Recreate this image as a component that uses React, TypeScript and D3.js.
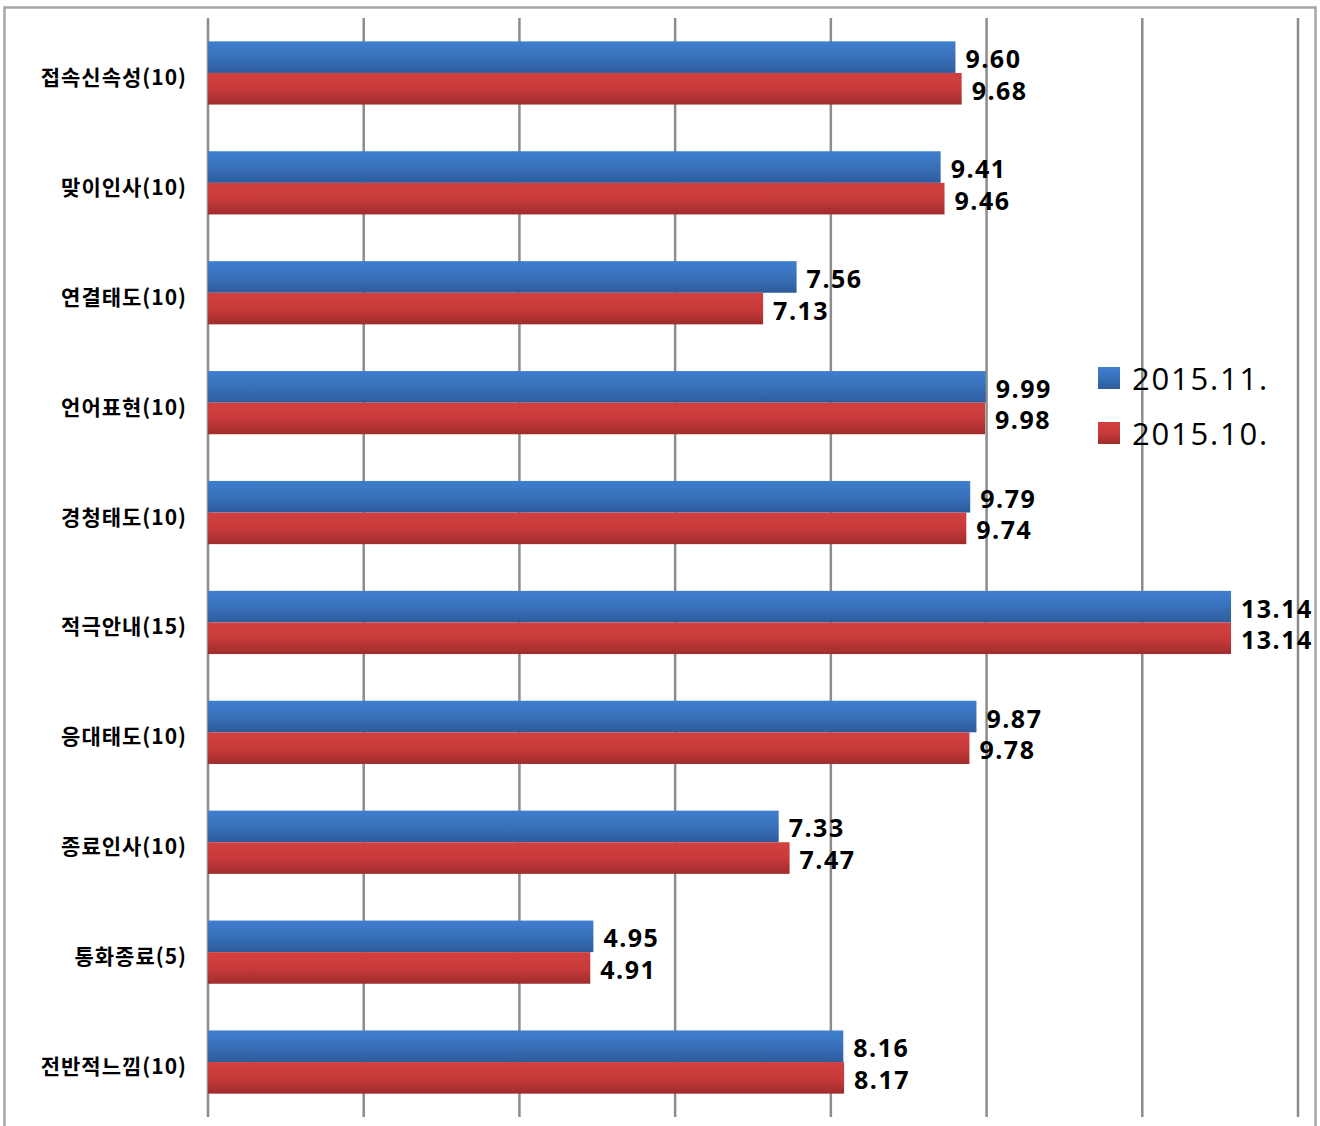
import React from "react";
import * as d3 from "d3";

const categories = ["접속신속성(10)", "맞이인사(10)", "연결태도(10)", "언어표현(10)", "경청태도(10)", "적극안내(15)", "응대태도(10)", "종료인사(10)", "통화종료(5)", "전반적느낌(10)"];
const nov = [9.60, 9.41, 7.56, 9.99, 9.79, 13.14, 9.87, 7.33, 4.95, 8.16];
const oct = [9.68, 9.46, 7.13, 9.98, 9.74, 13.14, 9.78, 7.47, 4.91, 8.17];
const seriesNames = ["2015.11.", "2015.10."];
const gridTicks = [0, 2, 4, 6, 8, 10, 12, 14];

const W = 1320, H = 1126;
const plotLeft = 208, plotRight = 1298, plotTop = 18, plotBottom = 1117;

export default function App() {
  const x = d3.scaleLinear().domain([0, 14]).range([plotLeft, plotRight]);
  const y = d3.scaleBand<string>().domain(categories).range([plotTop, plotBottom]).paddingInner(0.425).paddingOuter(0.2125);
  const sub = d3.scaleBand<string>().domain(seriesNames).range([0, y.bandwidth()]);
  const series = [
    { name: seriesNames[0], values: nov, grad: "gBlue" },
    { name: seriesNames[1], values: oct, grad: "gRed" },
  ];
  const numFont = "'Open Sans', 'Noto Sans', sans-serif";
  const korFont = "'Noto Sans CJK KR', sans-serif";
  return (
    <div style={{ position: "absolute", left: 0, top: 0 }}>
      <svg width={W} height={H} style={{ display: "block", background: "#fff" }}>
        <defs>
          <linearGradient id="gBlue" x1="0" y1="0" x2="0" y2="1">
            <stop offset="0" stopColor="#3f7fcf" />
            <stop offset="0.5" stopColor="#3870b9" />
            <stop offset="1" stopColor="#2d5c9c" />
          </linearGradient>
          <linearGradient id="gRed" x1="0" y1="0" x2="0" y2="1">
            <stop offset="0" stopColor="#d24040" />
            <stop offset="0.5" stopColor="#c73b3a" />
            <stop offset="1" stopColor="#a02c2c" />
          </linearGradient>
        </defs>
        <rect x={4.5} y={7.5} width={1311} height={1130} fill="#fff" stroke="#a6a6a6" strokeWidth={2.5} />
        {gridTicks.map((t) => (
          <line key={t} x1={x(t)} x2={x(t)} y1={plotTop} y2={plotBottom} stroke="#8c8c8c" strokeWidth={2.5} />
        ))}
        {categories.map((c) => (
          <text key={c} x={187} y={(y(c) as number) + y.bandwidth() / 2 + 3} textAnchor="end" dominantBaseline="central"
            fontFamily={korFont} fontWeight="bold" fontSize={21} letterSpacing={1} fill="#000">{c}</text>
        ))}
        {series.map((s) => (
          <g key={s.name}>
            {s.values.map((v, i) => {
              const yy = (y(categories[i]) as number) + (sub(s.name) as number);
              return (
                <g key={i}>
                  <rect x={x(0)} y={yy} width={x(v) - x(0)} height={sub.bandwidth()} fill={`url(#${s.grad})`} />
                  <text x={x(v) + 10} y={yy + sub.bandwidth() / 2 + 1} dominantBaseline="central"
                    fontFamily={numFont} fontWeight="bold" fontSize={25} letterSpacing={1.5} fill="#000">{v.toFixed(2)}</text>
                </g>
              );
            })}
          </g>
        ))}
        {series.map((s, i) => (
          <g key={s.name} transform={`translate(1098, ${367 + i * 55})`}>
            <rect x={0} y={0} width={22} height={22} fill={`url(#${s.grad})`} />
            <text x={34} y={11} dominantBaseline="central" fontFamily={numFont} fontSize={31} letterSpacing={1.8} fill="#000">{s.name}</text>
          </g>
        ))}
      </svg>
    </div>
  );
}
